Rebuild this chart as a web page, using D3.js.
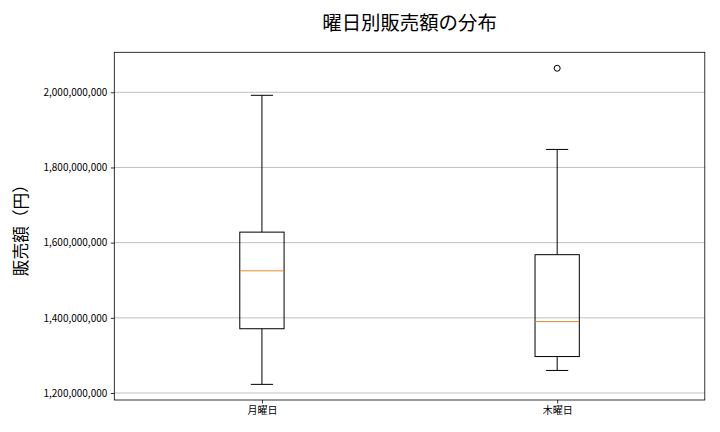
<!DOCTYPE html>
<html>
<head>
<meta charset="utf-8">
<script src="https://cdn.jsdelivr.net/npm/d3@7"></script>
<style>
  html, body { margin: 0; padding: 0; background: #fff; }
  svg { display: block; font-family: "Noto Sans CJK JP", "Noto Sans", sans-serif; }
</style>
</head>
<body>
<svg id="chart" width="720" height="432"></svg>
<script>
// ---- Data ----
const categories = ["月曜日", "木曜日"];
const whiskerLow  = [1223e6, 1260e6];
const q1          = [1371e6, 1297e6];
const median      = [1525e6, 1390e6];
const q3          = [1628e6, 1568e6];
const whiskerHigh = [1992e6, 1848e6];
const outliers    = [[], [2064e6]];
const yTicks = [1200e6, 1400e6, 1600e6, 1800e6, 2000e6];

const chartTitle = "曜日別販売額の分布";
const yLabel = "販売額（円）";

// ---- Layout ----
const svg = d3.select("#chart");
const plotL = 114.3, plotR = 704.8, plotT = 52.3, plotB = 400;

const x = d3.scaleLinear().domain([0.5, categories.length + 0.5]).range([plotL, plotR]);
const y = d3.scaleLinear().domain([1181.4e6, 2106.4e6]).range([plotB, plotT]);

// grid lines
svg.append("g")
  .selectAll("line")
  .data(yTicks)
  .join("line")
  .attr("x1", plotL).attr("x2", plotR)
  .attr("y1", d => y(d)).attr("y2", d => y(d))
  .attr("stroke", "#b0b0b0")
  .attr("stroke-width", 0.8);

// axes
const fmt = d3.format(",");
const yAxis = d3.axisLeft(y).tickValues(yTicks).tickFormat(d => fmt(Math.round(d))).tickSize(3.5).tickPadding(3.5);
const gy = svg.append("g").attr("transform", `translate(${plotL},0)`).call(yAxis);
gy.select(".domain").remove();
gy.selectAll("line").attr("stroke", "#000").attr("stroke-width", 0.8);
gy.selectAll("text").attr("font-size", "10px").attr("fill", "#000")
  .attr("font-family", "'Noto Sans CJK JP', sans-serif");

const xAxis = d3.axisBottom(x).tickValues(categories.map((c, i) => i + 1))
  .tickFormat((d, i) => categories[i]).tickSize(3.5).tickPadding(3.5);
const gx = svg.append("g").attr("transform", `translate(0,${plotB})`).call(xAxis);
gx.select(".domain").remove();
gx.selectAll("line").attr("stroke", "#000").attr("stroke-width", 0.8);
gx.selectAll("text").attr("font-size", "10px").attr("fill", "#000")
  .attr("font-family", "'Noto Sans CJK JP', sans-serif");

// boxes
const boxHalf = 0.075, capHalf = 0.0375;
const g = svg.append("g");
categories.forEach((c, i) => {
  const p = i + 1;
  // whiskers
  g.append("line").attr("x1", x(p)).attr("x2", x(p))
    .attr("y1", y(q3[i])).attr("y2", y(whiskerHigh[i]))
    .attr("stroke", "#000").attr("stroke-width", 1);
  g.append("line").attr("x1", x(p)).attr("x2", x(p))
    .attr("y1", y(q1[i])).attr("y2", y(whiskerLow[i]))
    .attr("stroke", "#000").attr("stroke-width", 1);
  // caps
  [whiskerHigh[i], whiskerLow[i]].forEach(v => {
    g.append("line").attr("x1", x(p - capHalf)).attr("x2", x(p + capHalf))
      .attr("y1", y(v)).attr("y2", y(v))
      .attr("stroke", "#000").attr("stroke-width", 1);
  });
  // box
  g.append("rect")
    .attr("x", x(p - boxHalf)).attr("y", y(q3[i]))
    .attr("width", x(p + boxHalf) - x(p - boxHalf))
    .attr("height", y(q1[i]) - y(q3[i]))
    .attr("fill", "none").attr("stroke", "#000").attr("stroke-width", 1);
  // median
  g.append("line").attr("x1", x(p - boxHalf)).attr("x2", x(p + boxHalf))
    .attr("y1", y(median[i])).attr("y2", y(median[i]))
    .attr("stroke", "#e68a2e").attr("stroke-width", 1);
  // outliers
  g.selectAll(null).data(outliers[i]).join("circle")
    .attr("cx", x(p)).attr("cy", d => y(d)).attr("r", 3)
    .attr("fill", "none").attr("stroke", "#000").attr("stroke-width", 1);
});

// frame
svg.append("rect").attr("x", plotL).attr("y", plotT)
  .attr("width", plotR - plotL).attr("height", plotB - plotT)
  .attr("fill", "none").attr("stroke", "#000").attr("stroke-width", 0.8);

// title
svg.append("text").attr("x", (plotL + plotR) / 2).attr("y", 30)
  .attr("text-anchor", "middle").attr("font-size", "19.4px").attr("fill", "#000")
  .text(chartTitle);

// y label
svg.append("text")
  .attr("transform", `translate(27,${(plotT + plotB) / 2}) rotate(-90)`)
  .attr("text-anchor", "middle").attr("font-size", "16.7px").attr("fill", "#000")
  .text(yLabel);
</script>
</body>
</html>
